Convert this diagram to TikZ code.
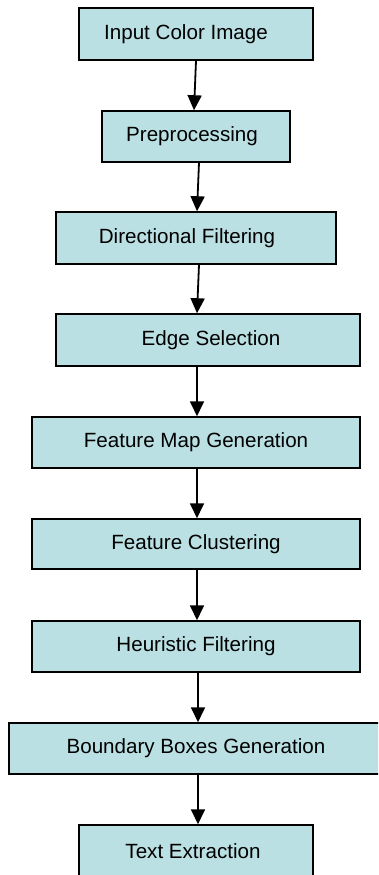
\documentclass[tikz,border=0pt]{standalone}
\usepackage{fontspec}
\setmainfont{Liberation Sans}
\usetikzlibrary{arrows.meta}
\definecolor{boxfill}{HTML}{BAE0E3}
\tikzset{
  stagebox/.style={draw=black, line width=1.5pt, fill=boxfill, inner sep=0pt,
    font=\fontsize{20.6}{24}\selectfont, text=black},
  flow/.style={line width=1.8pt, -{Triangle[width=14pt,length=15pt]}},
}
\begin{document}
\begin{tikzpicture}[x=1pt, y=-1pt]
\useasboundingbox (0,0) rectangle (378,875);
\clip (0,0) rectangle (378,875);
\fill[white] (0,0) rectangle (378,875);
\node[stagebox, minimum width=234pt, minimum height=52pt] (b1) at (196,34) {Input Color Image\kern20pt};
\node[stagebox, minimum width=188pt, minimum height=51pt] (b2) at (196,136.5) {Preprocessing\kern8pt};
\node[stagebox, minimum width=280pt, minimum height=52pt] (b3) at (196,238) {Directional Filtering\kern18pt};
\node[stagebox, minimum width=304pt, minimum height=52pt] (b4) at (208,340) {\kern6pt Edge Selection};
\node[stagebox, minimum width=328pt, minimum height=51pt] (b5) at (196,442.5) {Feature Map Generation};
\node[stagebox, minimum width=328pt, minimum height=50pt] (b6) at (196,544) {Feature Clustering};
\node[stagebox, minimum width=328pt, minimum height=51pt] (b7) at (196,646.5) {Heuristic Filtering};
\node[stagebox, minimum width=376pt, minimum height=51pt] (b8) at (197,748.5) {Boundary Boxes Generation\kern2pt};
\node[stagebox, minimum width=234pt, minimum height=52pt] (b9) at (196,851) {Text Extraction\kern6pt};
\draw[flow] (b1.south) -- ([xshift=-2pt]b2.north);
\draw[flow] ([xshift=3pt]b2.south) -- ([xshift=1pt]b3.north);
\draw[flow] ([xshift=3pt]b3.south) -- ([xshift=-11pt]b4.north);
\draw[flow] ([xshift=-11pt]b4.south) -- ([xshift=1pt]b5.north);
\draw[flow] ([xshift=1pt]b5.south) -- ([xshift=1pt]b6.north);
\draw[flow] ([xshift=1pt]b6.south) -- ([xshift=1pt]b7.north);
\draw[flow] ([xshift=2pt]b7.south) -- ([xshift=1pt]b8.north);
\draw[flow] ([xshift=1pt]b8.south) -- ([xshift=2pt]b9.north);
\end{tikzpicture}
\end{document}
